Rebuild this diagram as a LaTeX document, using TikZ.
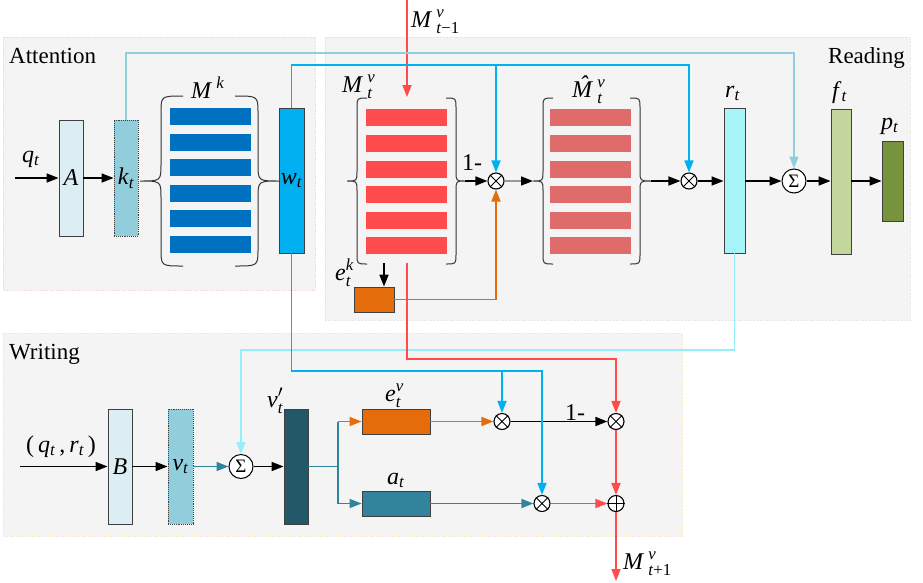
\documentclass[tikz,border=0pt]{standalone}
\usepackage{amsmath}
\usepackage{fontspec}
\setmainfont{Liberation Serif}
\usetikzlibrary{arrows.meta}
\definecolor{panel}{HTML}{F4F4F4}
\definecolor{pbA}{HTML}{F0D8D8}
\definecolor{pbR}{HTML}{E2E2E2}
\definecolor{pbW}{HTML}{F6E6C4}
\definecolor{lblue}{HTML}{92CDDC}
\definecolor{bblue}{HTML}{00B0F0}
\definecolor{mkcol}{HTML}{0070C0}
\definecolor{mvcol}{HTML}{FF4B4B}
\definecolor{mhcol}{HTML}{E06B6B}
\definecolor{ocol}{HTML}{E46C0A}
\definecolor{tcol}{HTML}{31849B}
\definecolor{ccol}{HTML}{A6F4F8}
\definecolor{cline}{HTML}{96EEF6}
\definecolor{paleA}{HTML}{DCEEF4}
\definecolor{fcol}{HTML}{C3D69B}
\definecolor{pcol}{HTML}{77933C}
\definecolor{vpcol}{HTML}{215968}
\definecolor{bordc}{HTML}{404040}
\newcommand\vs[3]{\textit{#1}\,$^{\textit{#2}}_{\text{#3}}$}
\newcommand\vb[2]{\textit{#1}$_{\textit{#2}}$}
\newcommand\drawbrace[6]{%
\draw[bracestyle] (#3,#4) .. controls (#2,#4) .. (#2,{#4+#6}) -- (#2,{(#4+#5)/2-#6}) .. controls (#2,{(#4+#5)/2}) .. (#1,{(#4+#5)/2}) .. controls (#2,{(#4+#5)/2}) .. (#2,{(#4+#5)/2+#6}) -- (#2,{#5-#6}) .. controls (#2,#5) .. (#3,#5);}
\tikzset{
  panelbox/.style={fill=panel, draw=#1, densely dotted, line width=0.8pt},
  box/.style={draw=bordc, line width=0.9pt, inner sep=0pt, font=\fontsize{24}{28}\selectfont},
  dotbox/.style={box, densely dotted},
  lab/.style={inner sep=0pt, font=\fontsize{24}{28}\selectfont},
  head/.style={inner sep=0pt, font=\fontsize{23}{27}\selectfont},
  otimes/.style={circle, draw=black, fill=white, line width=1.1pt, minimum size=16pt, inner sep=0pt},
  sigma/.style={circle, draw=black, fill=white, line width=1pt, minimum size=24pt, inner sep=0pt, font=\fontsize{19}{20}\selectfont},
  bracestyle/.style={draw=black!80, line width=1pt},
  conn/.style={line width=1.6pt},
  arr/.style={conn, -{Triangle[length=12pt,width=9pt]}},
}
\begin{document}
\begin{tikzpicture}[x=1pt,y=-1pt]
\useasboundingbox (0,0) rectangle (923,582);
% panels
\draw[panelbox=pbA] (3,37) rectangle (315,290);
\draw[panelbox=pbR] (325,37) rectangle (910,320);
\draw[panelbox=pbW] (3,333) rectangle (682,536);
\node[head, anchor=base west] (hatt) at (9,63) {Attention};
\node[head, anchor=base east] (hread) at (905,63) {Reading};
\node[head, anchor=base west] (hwrite) at (9,359) {Writing};

% memory rows
\foreach \yy in {108,133.5,159,184.5,210,236}{\fill[mkcol] (170,\yy) rectangle (251,{\yy+17});}
\foreach \yy in {109,135,161,186,212,237}{\fill[mvcol] (366,\yy) rectangle (447,{\yy+17});}
\foreach \yy in {109,135,161,186,212,237}{\fill[mhcol] (550,\yy) rectangle (631,{\yy+17});}
\drawbrace{140}{161}{183}{96}{266}{17}
\drawbrace{280}{258}{235}{96}{266}{17}
\drawbrace{347}{357}{367}{98}{264}{10}
\drawbrace{465}{456}{446}{98}{264}{10}
\drawbrace{533}{543}{553}{98}{264}{10}
\drawbrace{651}{640}{630}{98}{264}{10}
\coordinate (mvR) at (465,181);
\coordinate (mhL) at (533,181);
\coordinate (mhR) at (651,181);
\coordinate (mvbot) at (384,263);
\coordinate (mvred) at (407,263);
\coordinate (mtop) at (407,0);
\coordinate (mvtop) at (407,97);
\node[lab, anchor=base west] (lmk) at (191,98) {\vs{M}{k}{}};
\node[lab, anchor=base west] (lmv) at (342,92) {\vs{M}{v}{\textit{t}}};
\node[lab, anchor=base west] (lmh) at (572,97) {\textit{M}\llap{\raisebox{0.2em}{\textit{ˆ}}\hspace{0.2em}}\,$^{\textit{v}}_{\textit{t}}$};
\node[lab, anchor=base west] (lmv1) at (411,27) {\vs{M}{v}{\textit{t}−1}};

% attention boxes
\node[box, fill=paleA, minimum width=24pt, minimum height=116pt] (A) at (71,178) {\textit{A}};
\node[dotbox, fill=lblue, minimum width=24pt, minimum height=116pt] (k) at (126,178) {\vb{k}{t}};
\node[box, fill=bblue, minimum width=25pt, minimum height=145pt] (w) at (291.5,180.5) {\vb{w}{t}};
\coordinate (qin) at (15,178);
\node[lab, anchor=base west] (lq) at (22,162) {\vb{q}{t}};
\draw[arr] (qin) -- (A.west);
\draw[arr] (A.east) -- (k.west);

% reading
\node[otimes] (o1) at (496,181) {};
\node[otimes] (o2) at (689,181) {};
\foreach \n in {o1,o2}{\draw[line width=1pt] (\n.north west) -- (\n.south east) (\n.north east) -- (\n.south west);}
\node[sigma] (s1) at (794,181) {Σ};
\node[box, fill=ccol, minimum width=21pt, minimum height=145pt] (r) at (734.5,180.5) {};
\node[box, fill=fcol, minimum width=20pt, minimum height=145pt] (f) at (841,181.5) {};
\node[box, fill=pcol, minimum width=21pt, minimum height=80pt] (p) at (892.5,181) {};
\node[lab, anchor=base west] (lr) at (725,97) {\vb{r}{t}};
\node[lab, anchor=base west] (lf) at (832,98) {\vb{f}{t}};
\node[lab, anchor=base west] (lp) at (881,129) {\vb{p}{t}};
\node[box, fill=ocol, minimum width=40pt, minimum height=25pt] (ek) at (374,299.5) {};
\node[lab, anchor=base west] (lek) at (335,280) {\textit{e}$^{\textit{k}}_{\textit{t}}$};
\node[lab, anchor=base west] (l1a) at (462,170) {1-};

\draw[arr] (mvR) -- (o1.west);
\draw[conn, draw=black!40, -{Triangle[length=12pt,width=9pt,color=black]}] (o1.east) -- (mhL);
\draw[arr] (mhR) -- (o2.west);
\draw[arr] (o2.east) -- (r.west |- o2.east);
\draw[arr] (r.east |- s1.west) -- (s1.west);
\draw[arr] (s1.east) -- (f.west |- s1.east);
\draw[arr] (f.east |- p.west) -- (p.west);
\draw[arr] (mvbot) -- (mvbot |- ek.north);
\draw[arr, draw=ocol] (ek.east) -| (o1.south);
\draw[arr, draw=mvcol] (mtop) -- (mvtop);

% top connectors
\draw[arr, draw=lblue] (k.north) -- (126,53) -| (s1.north);
\draw[arr, draw=bblue] (w.north) -- (291.5,65) -| (o2.north);
\coordinate (btop) at (496,65);
\draw[arr, draw=bblue] (btop) -- (o1.north);

% writing
\node[box, fill=paleA, minimum width=24pt, minimum height=115pt] (B) at (120,466.5) {\textit{B}};
\node[dotbox, fill=lblue, minimum width=25pt, minimum height=115pt] (v) at (180.5,466.5) {\vb{v}{t}};
\node[sigma] (s2) at (241,466.5) {Σ};
\node[box, fill=vpcol, minimum width=24pt, minimum height=115pt] (vp) at (296,466.5) {};
\node[box, fill=ocol, minimum width=68pt, minimum height=25pt] (ev) at (396,421.5) {};
\node[box, fill=tcol, minimum width=68pt, minimum height=25pt] (a) at (396,503.5) {};
\node[otimes] (o3) at (502,421.5) {};
\node[otimes] (o4) at (542,503.5) {};
\node[otimes] (o5) at (616,421.5) {};
\node[otimes] (pl) at (616,503.5) {};
\foreach \n in {o3,o4,o5}{\draw[line width=1pt] (\n.north west) -- (\n.south east) (\n.north east) -- (\n.south west);}
\draw[line width=1pt] (pl.north) -- (pl.south) (pl.west) -- (pl.east);
\node[lab, anchor=base west] (lqr) at (26,452) {(\,\vb{q}{t}\,,\,\vb{r}{t}\,)};
\node[lab, anchor=base west] (lvp) at (267,407) {\textit{v}$'_{\textit{t}}$};
\node[lab, anchor=base west] (lev) at (385,401) {\textit{e}$^{\textit{v}}_{\textit{t}}$};
\node[lab, anchor=base west] (la) at (387,484) {\vb{a}{t}};
\node[lab, anchor=base west] (l1b) at (565,420) {1-};
\node[lab, anchor=base west] (lmv2) at (623,569) {\vs{M}{v}{\textit{t}+1}};
\coordinate (qrin) at (20,466.5);
\coordinate (br) at (338,466.5);
\coordinate (mout) at (616,581);

\draw[arr] (qrin) -- (B.west);
\draw[arr] (B.east) -- (v.west);
\draw[arr, draw=tcol] (v.east) -- (s2.west);
\draw[arr] (s2.east) -- (vp.west);
\draw[conn, draw=tcol] (vp.east) -- (br) -- (br |- ev.west);
\draw[arr, draw=ocol] (br |- ev.west) -- (ev.west);
\draw[arr, draw=tcol] (br) |- (a.west);
\draw[arr, draw=ocol] (ev.east) -- (o3.west);
\draw[arr] (o3.east) -- (o5.west);
\draw[arr, draw=tcol] (a.east) -- (o4.west);
\draw[arr, draw=mvcol] (o4.east) -- (pl.west);
\draw[arr, draw=mvcol] (o5.south) -- (pl.north);
\draw[arr, draw=mvcol] (pl.south) -- (mout);

% long connectors
\draw[arr, draw=cline] (r.south) -- (734.5,350) -| (s2.north);
\draw[arr, draw=bblue] (w.south) -- (291.5,371) -| (o4.north);
\coordinate (bbot) at (502,371);
\draw[arr, draw=bblue] (bbot) -- (o3.north);
\draw[arr, draw=mvcol] (mvred) -- (407,359) -| (o5.north);
\end{tikzpicture}
\end{document}
